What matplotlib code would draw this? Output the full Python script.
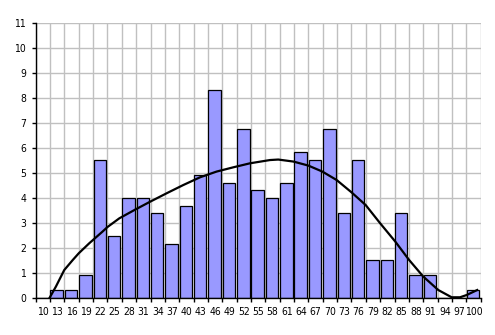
import matplotlib
matplotlib.use("Agg")
import matplotlib.pyplot as plt
import numpy as np
from matplotlib import font_manager
from matplotlib.font_manager import FontProperties

narrow = None
for f in font_manager.fontManager.ttflist:
    fn = f.fname.lower()
    if 'narrow' in fn and 'liberation' in fn and 'bold' not in fn and 'italic' not in fn:
        narrow = f.fname
        break
if narrow is None:
    for f in font_manager.fontManager.ttflist:
        fn = f.fname.lower()
        if 'dejavusanscondensed.ttf' in fn:
            narrow = f.fname
            break

categories = list(range(10, 101, 3))
values = [0, 0.32, 0.32, 0.92, 5.52, 2.48, 4.0, 4.0, 3.4, 2.16, 3.68, 4.92, 8.32,
          4.6, 6.76, 4.32, 4.0, 4.6, 5.84, 5.52, 6.76, 3.4, 5.52, 1.52, 1.52, 3.4,
          0.92, 0.92, 0, 0, 0.32]

# curve in category-position units (0 = left axis, 1 per category)
curve_pos = [0.95, 1.41, 1.99, 2.58, 3.0, 3.73, 4.66, 5.0, 5.83, 6.94, 7.96, 9.12,
             10.28, 11.45, 12.61, 13.77, 14.93, 16.32, 16.9, 17.95, 18.99, 19.97,
             20.97, 22.0, 22.99, 24.0, 25.05, 26.02, 27.0, 28.05, 28.98, 29.56,
             30.02, 30.76]
curve_val = [0.0, 0.47, 1.13, 1.53, 1.8, 2.2, 2.67, 2.85, 3.2, 3.55, 3.86, 4.2,
             4.53, 4.84, 5.07, 5.24, 5.4, 5.53, 5.55, 5.47, 5.31, 5.07,
             4.73, 4.24, 3.73, 3.0, 2.27, 1.53, 0.87, 0.33, 0.04, 0.04,
             0.13, 0.33]

fig = plt.figure(figsize=(4.95, 3.35), dpi=100)
ax = fig.add_axes([0.0721, 0.1096, 0.971 - 0.0721, 0.9304 - 0.1096])

n = len(categories)
x = np.arange(n)
ax.bar(x + 0.03, values, width=0.87, align='edge', color='#9999FF',
       edgecolor='black', linewidth=0.9, zorder=3)
ax.plot(curve_pos, curve_val, color='black', linewidth=1.6, zorder=4)

ax.set_xlim(0, n)
ax.set_ylim(0, 11)
ax.set_yticks(range(0, 12))
ax.set_xticks(np.arange(0, n + 1))
ax.set_xticklabels([])
ax.set_xticks(x + 0.5, minor=True)
ax.set_xticklabels([str(c) for c in categories], minor=True)
ax.tick_params(axis='x', which='minor', length=0, pad=6)
ax.tick_params(axis='x', which='major', length=3, width=1, direction='out')
ax.tick_params(axis='y', length=3, width=1, direction='out', pad=4)
if narrow:
    fp = FontProperties(fname=narrow, size=7.5)
else:
    fp = FontProperties(family='DejaVu Sans', size=6.3)
for lab in ax.get_xticklabels(minor=True) + ax.get_yticklabels():
    lab.set_fontproperties(fp)

ax.grid(True, which='major', color='#C0C0C0', linewidth=1.0, zorder=0)
ax.set_axisbelow(True)
for s in ['top', 'right']:
    ax.spines[s].set_visible(False)
for s in ['left', 'bottom']:
    ax.spines[s].set_color('black')
    ax.spines[s].set_linewidth(1.0)
    ax.spines[s].set_zorder(5)

fig.savefig('out.png', dpi=100)
